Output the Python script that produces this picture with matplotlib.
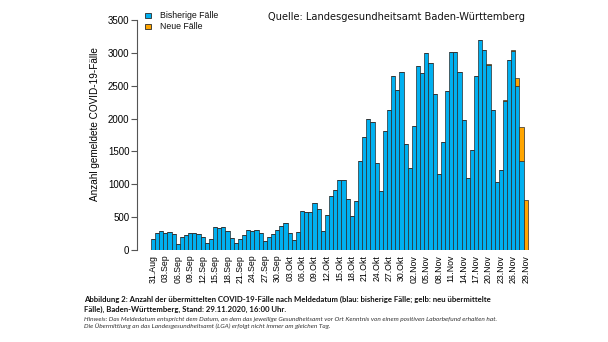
import matplotlib
matplotlib.use("Agg")
import matplotlib.pyplot as plt
from matplotlib.patches import Rectangle
import numpy as np

# ---------------- data ----------------
dates_n = 91  # 31 Aug .. 29 Nov 2020
bisherige = [165, 260, 290, 265, 270, 245, 85, 200, 225, 260, 260, 250, 205, 100,
             170, 350, 340, 350, 285, 185, 100, 165, 225, 305, 285, 305, 260, 130,
             195, 245, 310, 365, 405, 265, 145, 280, 600, 585, 585, 710, 625, 290,
             535, 815, 920, 1065, 1060, 775, 520, 745, 1360, 1715, 1990, 1945, 1325,
             905, 1805, 2125, 2650, 2430, 2710, 1620, 1250, 1890, 2795, 2695, 3000,
             2840, 2380, 1150, 1640, 2420, 3010, 3010, 2705, 1985, 1090, 1515, 2645,
             3190, 3040, 2815, 2125, 1040, 1225, 2270, 2890, 3025, 2500, 1350, 0]
neue = [0] * 81 + [10, 0, 0, 0, 10, 0, 20, 110, 520, 760]
tick_labels = ["31.Aug", "03.Sep", "06.Sep", "09.Sep", "12.Sep", "15.Sep", "18.Sep",
               "21.Sep", "24.Sep", "27.Sep", "30.Sep", "03.Okt", "06.Okt", "09.Okt",
               "12.Okt", "15.Okt", "18.Okt", "21.Okt", "24.Okt", "27.Okt", "30.Okt",
               "02.Nov", "05.Nov", "08.Nov", "11.Nov", "14.Nov", "17.Nov", "20.Nov",
               "23.Nov", "26.Nov", "29.Nov"]
y_ticks = [0, 500, 1000, 1500, 2000, 2500, 3000, 3500]

legend_labels = ["Bisherige Fälle", "Neue Fälle"]
source_text = "Quelle: Landesgesundheitsamt Baden-Württemberg"
ylabel = "Anzahl gemeldete COVID-19-Fälle"
caption1 = "Abbildung 2: Anzahl der übermittelten COVID-19-Fälle nach Meldedatum (blau: bisherige Fälle; gelb: neu übermittelte"
caption2 = "Fälle), Baden-Württemberg, Stand: 29.11.2020, 16:00 Uhr."
note1 = "Hinweis: Das Meldedatum entspricht dem Datum, an dem das jeweilige Gesundheitsamt vor Ort Kenntnis von einem positiven Laborbefund erhalten hat."
note2 = "Die Übermittlung an das Landesgesundheitsamt (LGA) erfolgt nicht immer am gleichen Tag."

BLUE = "#00B0F0"
ORANGE = "#FFA500"
EDGE = "#2b2b2b"

W, H = 608, 342
fig = plt.figure(figsize=(W / 100, H / 100), dpi=100)
fig.patch.set_facecolor("white")

def fx(px):
    return px / W

def fy(py):
    return 1 - py / H

ax_left, ax_right, ax_top, ax_bottom = 137, 530, 20, 250
ax = fig.add_axes([fx(ax_left), fy(ax_bottom), (ax_right - ax_left) / W,
                   (ax_bottom - ax_top) / H])

x = np.arange(dates_n)
ax.bar(x, bisherige, width=1.0, color=BLUE, edgecolor=EDGE, linewidth=0.5)
ax.bar(x, neue, width=1.0, bottom=bisherige, color=ORANGE, edgecolor=EDGE,
       linewidth=0.5)

px_per_unit = (525.7 - 153) / 90
ax.set_xlim(-(153 - ax_left) / px_per_unit, 90 + (ax_right - 525.7) / px_per_unit)
ax.set_ylim(0, 3500)

for s in ["top", "right", "bottom"]:
    ax.spines[s].set_visible(False)
ax.spines["left"].set_bounds(0, 3500)
ax.spines["left"].set_color("#555555")
ax.spines["left"].set_linewidth(0.8)

ax.set_yticks(y_ticks)
ax.set_yticklabels([str(v) for v in y_ticks], fontfamily="Liberation Sans",
                   fontsize=7)
ax.tick_params(axis="y", length=4, width=0.8, color="#555555", pad=1.5)

ax.set_xticks(x[::3])
ax.set_xticklabels(tick_labels, rotation=90, fontfamily="Liberation Sans",
                   fontsize=6.3)
ax.tick_params(axis="x", length=0, pad=3.5)

ax.set_ylabel(ylabel, fontfamily="Liberation Sans", fontsize=7.2)
ax.yaxis.set_label_coords((100 - ax_left) / (ax_right - ax_left),
                          (ax_bottom - 124) / (ax_bottom - ax_top))

# legend
for i, (lab, col) in enumerate(zip(legend_labels, [BLUE, ORANGE])):
    yc = 15.5 + i * 10.7
    fig.patches.append(Rectangle((fx(145), fy(yc + 2.6)), 6 / W, 5.2 / H,
                                 transform=fig.transFigure, facecolor=col,
                                 edgecolor=EDGE, linewidth=0.6))
    fig.text(fx(160), fy(yc), lab, fontfamily="Liberation Sans", fontsize=6.3,
             va="center", ha="left", color="#111111")

renderer = fig.canvas.get_renderer()

def fit_text(txt, x0, yc, target_w, size, **kw):
    t = fig.text(fx(x0), fy(yc), txt, fontsize=size, va="center", ha="left", **kw)
    bb = t.get_window_extent(renderer)
    t.set_fontsize(size * target_w / bb.width)
    return t.get_fontsize()

fit_text(source_text, 268, 17, 258, 7, fontfamily="DejaVu Sans", color="#111111")

cs = fit_text(caption1, 84, 299, 409, 6, fontfamily="Lato", fontweight="bold",
              color="#111111")
fig.text(fx(84), fy(309.3), caption2, fontsize=cs, fontfamily="Lato",
         fontweight="bold", va="center", ha="left", color="#111111")
ns = fit_text(note1, 84, 319, 413, 4.5, fontfamily="Lato", fontstyle="italic",
              color="#333333")
fig.text(fx(84), fy(325.7), note2, fontsize=ns, fontfamily="Lato",
         fontstyle="italic", va="center", ha="left", color="#333333")

fig.savefig("out.png", dpi=100, facecolor="white")
